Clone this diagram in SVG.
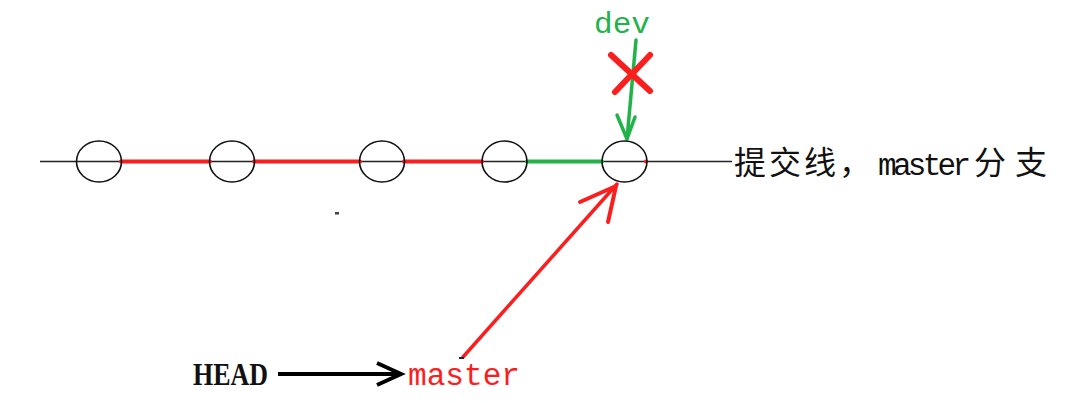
<svg xmlns="http://www.w3.org/2000/svg" width="1091" height="403" viewBox="0 0 1091 403">
<style>
.commit{fill:none;stroke:#111;stroke-width:1.6}
.base{stroke:#222;stroke-width:1.6}
.red{stroke:#fa1e1e;fill:none;stroke-linecap:round;stroke-linejoin:round}
.green{stroke:#22b24a;fill:none;stroke-linecap:round;stroke-linejoin:round}
.cjk{font-family:"Noto Sans CJK SC","Noto Sans CJK JP",sans-serif;font-size:32px;fill:#111}
.mono{font-family:"Liberation Mono",monospace}
</style>
<rect width="1091" height="403" fill="#fff"/>
<g id="connectors">
  <line class="base" x1="40" y1="161.5" x2="732" y2="161.5"/>
  <line class="red" stroke-width="4" x1="121" y1="161.5" x2="210" y2="161.5"/>
  <line class="red" stroke-width="4" x1="254" y1="161.5" x2="360" y2="161.5"/>
  <line class="red" stroke-width="4" x1="404" y1="161.5" x2="482" y2="161.5"/>
  <line class="green" stroke-width="4" x1="527" y1="161.5" x2="602" y2="161.5"/>
  <circle cx="646" cy="161.5" r="2" fill="#fa1e1e"/>
  <line class="green" stroke-width="3.5" x1="636" y1="40" x2="627" y2="139"/>
  <polyline class="green" stroke-width="3.5" points="617,115 627,139 635,117"/>
  <line class="red" stroke-width="6" x1="611" y1="55" x2="650" y2="91"/>
  <line class="red" stroke-width="6" x1="615" y1="92" x2="650" y2="55"/>
  <line class="red" stroke-width="3.5" x1="463" y1="357" x2="617" y2="184"/>
  <polyline class="red" stroke-width="4" points="580,202 616,186 608,222"/>
  <line stroke="#222" stroke-width="2" x1="459" y1="358" x2="464" y2="358"/>
  <line stroke="#000" stroke-width="4" x1="278" y1="374" x2="401" y2="374"/>
  <polyline fill="none" stroke="#000" stroke-width="4" stroke-linejoin="miter" points="377,363 401,374 377,385"/>
  <rect x="335" y="212" width="4" height="2.5" fill="#444"/>
</g>
<g id="c1"><ellipse class="commit" cx="99" cy="161.5" rx="22.5" ry="20.5"/></g>
<g id="c2"><ellipse class="commit" cx="232" cy="161.5" rx="22.5" ry="20.5"/></g>
<g id="c3"><ellipse class="commit" cx="382" cy="161.5" rx="22.5" ry="20.5"/></g>
<g id="c4"><ellipse class="commit" cx="504.5" cy="161.5" rx="22.5" ry="20.5"/></g>
<g id="c5"><ellipse class="commit" cx="624.5" cy="161.5" rx="22.5" ry="20.5"/></g>
<g id="label-dev"><text class="mono" x="594" y="33" font-size="30" fill="#22b24a" textLength="56" lengthAdjust="spacingAndGlyphs">dev</text></g>
<g id="label-line">
  <text class="cjk" y="174"><tspan x="734">提</tspan><tspan x="769">交</tspan><tspan x="804">线</tspan><tspan x="839">，</tspan><tspan x="878" y="175" class="mono" font-size="31" letter-spacing="-3.7">master</tspan><tspan x="974" y="174">分</tspan><tspan x="1015">支</tspan></text>
</g>
<g id="label-head"><text x="193" y="385" font-family="Liberation Serif,serif" font-weight="bold" font-size="31" fill="#111" textLength="75" lengthAdjust="spacingAndGlyphs">HEAD</text></g>
<g id="label-master"><text class="mono" x="408" y="385" font-size="31" fill="#fa1e1e" textLength="112" lengthAdjust="spacingAndGlyphs">master</text></g>
</svg>
